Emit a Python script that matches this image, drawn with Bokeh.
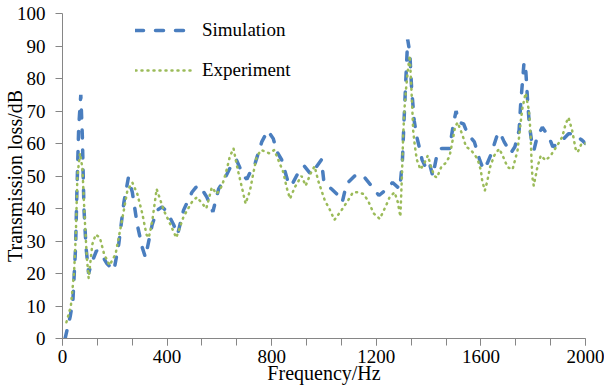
from bokeh.plotting import figure
from bokeh.models import Legend, LegendItem, FixedTicker, Range1d
from bokeh.embed import file_html
from bokeh.resources import INLINE

# ---- data ----
sim_freq = [10, 30, 40, 50, 55, 62, 70, 76, 82, 90, 100, 110, 130, 145, 170, 197,
            215, 235, 252, 267, 286, 305, 317, 343, 362, 381, 400, 425, 440, 463,
            495, 510, 525, 552, 575, 597, 616, 650, 665, 692, 705, 717, 737, 762,
            785, 806, 820, 838, 863, 875, 908, 925, 950, 990, 1000, 1029, 1055,
            1070, 1086, 1117, 1140, 1156, 1181, 1210, 1240, 1262, 1290, 1300, 1305,
            1312, 1320, 1328, 1335, 1345, 1355, 1364, 1375, 1390, 1403, 1416, 1433,
            1450, 1480, 1495, 1505, 1517, 1534, 1549, 1575, 1595, 1610, 1625, 1638,
            1660, 1672, 1689, 1714, 1730, 1746, 1752, 1760, 1765, 1772, 1778, 1785,
            1795, 1803, 1815, 1835, 1860, 1875, 1886, 1917, 1935, 1955, 1987, 2000]
sim_tl = [0, 7, 12, 28, 45, 65, 75, 62, 40, 28, 20, 23, 27, 26.5, 23, 21,
          29, 42, 49.5, 45, 35, 28, 25, 35, 39.5, 40.5, 39, 35, 32, 39.5,
          45, 46.5, 47, 43.5, 39, 46, 48.5, 54, 55, 50, 49, 51, 54, 60.5,
          64, 61.5, 57.5, 55, 48, 47, 52, 53, 50.5, 55, 48, 46, 44,
          42, 47.5, 50, 50.5, 49.5, 47, 44, 46, 48, 46, 55, 65,
          78, 92, 88, 77, 67, 62, 59, 55, 52.5, 54, 50, 57,
          58.5, 58.5, 66, 70, 66.5, 66, 63, 60.5, 55, 52, 54, 56.5,
          62, 63.5, 60.5, 57, 59, 64, 72, 80, 85, 82, 74, 66,
          60, 58, 62, 65, 62, 59, 59.5, 61.5, 63, 63, 61, 60]

exp_freq = [15, 32, 44, 51, 57, 67, 76, 85, 93, 100, 114, 127, 143, 159, 180, 203,
            229, 248, 267, 286, 305, 321, 330, 343, 360, 387, 413, 435, 463, 495,
            514, 550, 571, 590, 610, 625, 640, 654, 665, 673, 686, 700, 717, 730,
            743, 760, 790, 810, 825, 845, 857, 870, 888, 914, 930, 950, 964, 978,
            1003, 1020, 1040, 1067, 1092, 1111, 1130, 1150, 1168, 1190, 1213, 1238,
            1251, 1270, 1282, 1292, 1298, 1303, 1308, 1314, 1322, 1328, 1333, 1337,
            1341, 1347, 1355, 1369, 1384, 1397, 1410, 1422, 1432, 1448, 1465, 1480,
            1492, 1501, 1511, 1530, 1543, 1562, 1587, 1600, 1605, 1615, 1625, 1635,
            1651, 1670, 1683, 1702, 1721, 1740, 1746, 1752, 1759, 1771, 1784, 1790,
            1793, 1797, 1802, 1816, 1829, 1848, 1867, 1892, 1911, 1924, 1935, 1949,
            1962, 1970, 1985, 2000]
exp_tl = [5, 10, 20, 32, 50, 57, 52.5, 37, 25, 18.5, 29, 32, 31, 26, 22.5, 26,
          37, 45.5, 48, 44.5, 38.5, 32, 31, 36, 46, 39.5, 35, 31, 37.5, 42,
          43.5, 40, 46.5, 44.5, 47, 51, 56, 58.5, 54, 51, 46.5, 41.5, 45.5, 51,
          56, 58, 57, 58, 55, 51, 46.5, 43, 46.5, 50, 47, 51, 53, 48.5,
          42.5, 40, 36.5, 39.5, 42.5, 45, 45, 44.5, 42.5, 38.5, 36.8, 41,
          43.5, 45, 42, 37.5, 50, 63, 71, 77, 83.5, 87, 79, 72,
          64, 59.5, 55, 52, 54, 56.3, 52.7, 50, 49.5, 52.7, 54, 56,
          61, 65, 66.5, 62.5, 59, 58, 55.3, 51.7, 48.5, 45.5, 48.6, 52.7,
          56.3, 58.4, 56.3, 52.7, 52, 57.8, 62, 66.5, 71, 75.5, 70, 63,
          56, 49.5, 47, 52.7, 56.3, 54.8, 56.3, 59.4, 62, 66, 68, 64,
          58.4, 57.3, 60, 60]

x_major = [0, 400, 800, 1200, 1600, 2000]
x_minor = [i * 2000 / 15 for i in range(16)]
y_ticks = list(range(0, 101, 10))

FONT = "'Liberation Serif'"
AXIS_GRAY = "#868686"
BLUE = "#4a7ebf"
GREEN = "#9bbb59"

p = figure(width=604, height=389, output_backend="svg", toolbar_location=None,
           x_range=Range1d(0, 2000), y_range=Range1d(0, 100),
           min_border_left=60, min_border_right=19, min_border_top=13,
           min_border_bottom=51)
p.outline_line_color = None
p.grid.visible = False
p.background_fill_color = "white"

r_sim = p.line(sim_freq, sim_tl, line_color=BLUE, line_width=3.5,
               line_dash="8 12", line_cap="round")
r_exp = p.line(exp_freq, exp_tl, line_color=GREEN, line_width=2.5,
               line_dash="1 5", line_cap="round")

# axes
p.xaxis.ticker = FixedTicker(ticks=x_major, minor_ticks=x_minor)
p.yaxis.ticker = FixedTicker(ticks=y_ticks, minor_ticks=[])
for ax in (p.xaxis[0], p.yaxis[0]):
    ax.axis_line_color = AXIS_GRAY
    ax.major_tick_line_color = AXIS_GRAY
    ax.minor_tick_line_color = AXIS_GRAY
    ax.major_tick_out = 7
    ax.major_tick_in = 0
    ax.minor_tick_out = 7
    ax.minor_tick_in = 0
    ax.major_label_text_font = FONT
    ax.major_label_text_font_size = "19px"
    ax.major_label_text_color = "black"
    ax.axis_label_text_font = FONT
    ax.axis_label_text_font_size = "20px"
    ax.axis_label_text_font_style = "normal"
    ax.axis_label_text_color = "black"
p.xaxis.major_label_standoff = 4
p.yaxis.major_label_standoff = 10
p.xaxis.axis_label = "Frequency/Hz"
p.yaxis.axis_label = "Transmission loss/dB"
p.xaxis.axis_label_standoff = -4
p.yaxis.axis_label_standoff = -12

legend = Legend(items=[LegendItem(label="Simulation", renderers=[r_sim]),
                       LegendItem(label="Experiment", renderers=[r_exp])],
                location=(73, 257), glyph_width=60, glyph_height=20,
                label_height=20, spacing=18, padding=0, margin=0,
                label_standoff=7, border_line_color=None,
                background_fill_alpha=0, label_text_font=FONT,
                label_text_font_size="19px", label_text_color="black")
p.add_layout(legend)

open("out.html", "w").write(file_html(p, INLINE))
